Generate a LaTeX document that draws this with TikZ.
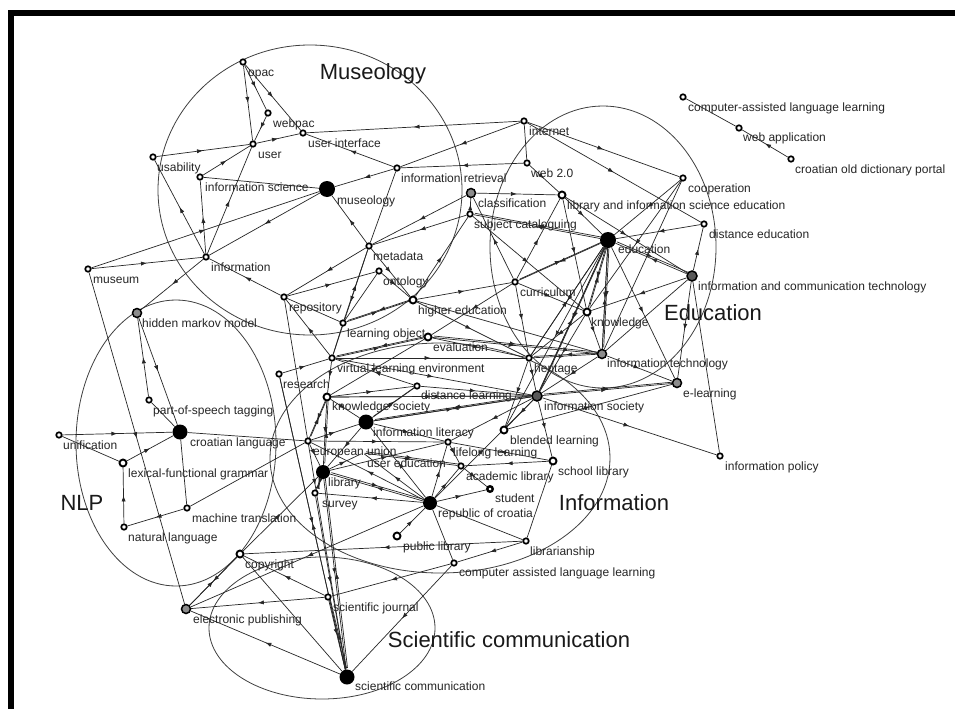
\documentclass[tikz,border=0pt]{standalone}
\usepackage{fontspec}
\setmainfont{Liberation Sans}
\usetikzlibrary{arrows.meta,decorations.markings}
\pgfdeclarelayer{bg}
\pgfdeclarelayer{fg}
\pgfsetlayers{bg,main,fg}
\newcommand\vx[7]{\node[#4] (#1) at (#2,#3) {};%
 \begin{pgfonlayer}{fg}\node[lab] (#1-l) at ([xshift=#5pt,yshift=-#6pt]#1.center) {#7};\end{pgfonlayer}}
\begin{document}
\begin{tikzpicture}[x=1pt,y=-1pt,
 lab/.style={anchor=base west, inner sep=0pt, font=\fontsize{12}{13}\selectfont, text=black!85},
 clab/.style={anchor=base, inner sep=0pt, font=\fontsize{22}{24}\selectfont, text=black!90},
 vsw/.style={circle, draw=black, line width=1.7pt, fill=white, inner sep=0pt, minimum size=5.5pt},
 vsw2/.style={vsw, minimum size=7pt, line width=1.9pt},
 vmed/.style={circle, draw=black, line width=1.5pt, fill=black!45, inner sep=0pt, minimum size=9pt},
 vdark/.style={vmed, fill=black!65, minimum size=10pt},
 vbig/.style={circle, fill=black, inner sep=0pt, minimum size=#1},
 vinv/.style={circle, inner sep=0pt, minimum size=3pt},
 arr/.style={draw=black!85, line width=0.7pt, postaction={decorate},
   decoration={markings, mark=at position 0.5 with {\arrow{Latex[length=6pt,width=4.2pt]}}}},
 pln/.style={draw=black!85, line width=0.7pt},
 grp/.style={draw=black!75, line width=0.8pt},
 shf/.style={transform canvas={shift={(1.4pt,1.4pt)}}}
]
\useasboundingbox (0,0) rectangle (955,709);

% vertices
\vx{opac}{243}{62}{vsw}{5}{14}{opac}
\vx{webpac}{268}{113}{vsw}{5}{14}{webpac}
\vx{uint}{303}{133}{vsw}{5}{14}{user interface}
\vx{user}{253}{144}{vsw}{5}{14}{user}
\vx{usab}{153}{157}{vsw}{4}{14}{usability}
\vx{infsci}{200}{177}{vsw}{5}{14}{information science}
\vx{museol}{327}{189}{vbig=16pt}{10}{15}{museology}
\vx{museum}{88}{269}{vsw}{5}{14}{museum}
\vx{info}{206}{257}{vsw}{5}{14}{information}
\vx{internet}{524}{121}{vsw}{5}{14}{internet}
\vx{infret}{397}{168}{vsw}{4}{14}{information retrieval}
\vx{web2}{527}{163}{vsw}{4}{14}{web 2.0}
\vx{classif}{471}{193}{vmed}{7}{14}{classification}
\vx{subjcat}{470}{214}{vsw}{4}{14}{subject cataloguing}
\vx{lisedu}{562}{195}{vsw2}{5}{14}{library and information science education}
\vx{callA}{683}{97}{vsw}{5}{14}{computer-assisted language learning}
\vx{webapp}{739}{128}{vsw}{4}{13}{web application}
\vx{codp}{791}{159}{vsw}{4}{14}{croatian old dictionary portal}
\vx{coop}{683}{178}{vsw}{5}{14}{cooperation}
\vx{distedu}{704}{224}{vsw}{5}{14}{distance education}
\vx{edu}{608}{240}{vbig=16pt}{10}{13}{education}
\vx{ict}{692}{276}{vdark}{6}{14}{information and communication technology}
\vx{elearn}{677}{383}{vmed}{6}{14}{e-learning}
\vx{infpol}{720}{456}{vsw}{5}{14}{information policy}
\vx{metadata}{369}{246}{vsw}{4}{14}{metadata}
\vx{ontology}{379}{271}{vsw}{4}{14}{ontology}
\vx{repos}{284}{297}{vsw}{5}{14}{repository}
\vx{highedu}{413}{300}{vsw2}{5}{14}{higher education}
\vx{lobj}{343}{323}{vsw}{4}{14}{learning object}
\vx{eval}{428}{337}{vsw2}{5}{14}{evaluation}
\vx{vle}{332}{358}{vsw}{5}{14}{virtual learning environment}
\vx{research}{279}{374}{vsw}{4}{14}{research}
\vx{curric}{515}{282}{vsw}{5}{14}{curriculum}
\vx{knowl}{587}{312}{vsw2}{4}{14}{knowledge}
\vx{infotech}{602}{354}{vmed}{5}{13}{information technology}
\vx{heritage}{529}{358}{vsw}{5}{14}{heritage}
\vx{infsoc}{537}{396}{vdark}{7}{14}{information society}
\vx{blend}{504}{430}{vsw2}{6}{14}{blended learning}
\vx{schlib}{553}{461}{vsw2}{5}{14}{school library}
\vx{lifelong}{448}{442}{vsw}{5}{14}{lifelong learning}
\vx{acadlib}{461}{466}{vsw}{5}{14}{academic library}
\vx{student}{490}{489}{vsw, line width=2.4pt}{5}{13}{student}
\vx{distlearn}{417}{386}{vsw}{4}{13}{distance learning}
\vx{knsoc}{327}{397}{vsw2}{5}{13}{knowledge society}
\vx{inflit}{366}{422}{vbig=15pt}{7}{14}{information literacy}
\vx{eu}{308}{441}{vsw}{5}{14}{european union}
\vx{useredu}{363}{453}{vinv}{4}{14}{user education}
\vx{library}{323}{472}{vbig=14pt}{5}{14}{library}
\vx{survey}{315}{493}{vsw}{7}{14}{survey}
\vx{roc}{430}{503}{vbig=14pt}{8}{14}{republic of croatia}
\vx{publib}{397}{536}{vsw2}{6}{14}{public library}
\vx{librsh}{526}{541}{vsw}{4}{14}{librarianship}
\vx{callB}{454}{563}{vsw}{5}{13}{computer assisted language learning}
\vx{scijour}{328}{597}{vsw}{5}{14}{scientific journal}
\vx{scicomm}{347}{677}{vbig=15pt}{8}{13}{scientific communication}
\vx{hmm}{137}{313}{vmed}{5}{14}{hidden markov model}
\vx{pos}{149}{400}{vsw}{4}{14}{part-of-speech tagging}
\vx{crolang}{180}{432}{vbig=15pt}{10}{14}{croatian language}
\vx{unif}{59}{435}{vsw}{4}{14}{unification}
\vx{lfg}{123}{463}{vsw2}{5}{14}{lexical-functional grammar}
\vx{mt}{187}{508}{vsw}{5}{14}{machine translation}
\vx{natlang}{124}{527}{vsw}{4}{14}{natural language}
\vx{copyright}{240}{554}{vsw2}{5}{14}{copyright}
\vx{epub}{186}{609}{vmed}{7}{14}{electronic publishing}

% cluster labels and frame
\begin{pgfonlayer}{fg}
\node[clab] (lmus) at (373,79) {Museology};
\node[clab] (ledu) at (713,320) {Education};
\node[clab] (linf) at (614,510) {Information};
\node[clab] (lnlp) at (82,510) {NLP};
\node[clab] (lsci) at (509,647) {Scientific communication};
\fill[black] (8,10) rectangle (955,16);
\fill[black] (8,10) rectangle (14,709);
\end{pgfonlayer}

\begin{pgfonlayer}{bg}
\fill[white] (0,0) rectangle (955,709);
% cluster outlines
\draw[grp] (310,190) ellipse [x radius=152pt, y radius=145pt];
\draw[grp] (603,247) ellipse [x radius=113pt, y radius=141pt];
\draw[grp] (440,458) ellipse [x radius=170pt, y radius=115pt];
\draw[grp] (176,443) ellipse [x radius=100pt, y radius=143pt];
\draw[grp] (322,628) ellipse [x radius=113pt, y radius=71pt];

% directed arcs
\foreach \a/\b in {opac/user, opac/webpac, opac/uint, webpac/user, usab/user, user/uint,
 infsci/user, info/user, info/infsci, info/usab, museum/museol, museol/info, museum/info,
 info/hmm, museum/epub, infret/museol, internet/uint, internet/infret, web2/infret, infret/uint,
 internet/coop, internet/distedu, classif/lisedu, classif/metadata, subjcat/metadata,
 subjcat/classif, metadata/museol, repos/info, metadata/repos, repos/ontology, lobj/metadata,
 lobj/highedu, ontology/highedu, metadata/highedu, highedu/subjcat, highedu/curric,
 highedu/heritage, vle/repos, metadata/vle, research/vle, vle/eval, eval/heritage,
 eval/infotech, curric/eval, curric/classif, curric/lisedu, subjcat/knowl, edu/subjcat,
 web2/lisedu, lisedu/edu, lisedu/ict, lisedu/knowl, coop/edu, coop/knowl, distedu/edu,
 ict/distedu, ict/edu, ict/knowl, ict/elearn, edu/elearn, infotech/elearn, infsoc/elearn,
 infsoc/infpol, edu/knowl, edu/infotech, edu/heritage, edu/infsoc, edu/blend, edu/curric,
 knowl/heritage, knowl/infotech, knowl/infsoc, curric/heritage, curric/knowl,
 heritage/infotech, heritage/infsoc, infotech/infsoc, vle/infsoc, vle/heritage, vle/knsoc,
 distlearn/vle, distlearn/infsoc, inflit/distlearn, knsoc/eval, knsoc/infsoc,
 knsoc/inflit, knsoc/eu, knsoc/library, eu/inflit, eu/lifelong, eu/library, research/scicomm,
 repos/scicomm, scicomm/research, library/scicomm, survey/scicomm, scijour/scicomm,
 library/survey, roc/library, roc/survey, roc/useredu, roc/eu, roc/inflit, roc/lifelong,
 roc/acadlib, roc/infsoc, roc/student, acadlib/student, publib/roc, librsh/callB,
 callB/scijour, callB/scicomm, librsh/copyright, roc/epub, schlib/acadlib, schlib/lifelong,
 infsoc/schlib, infsoc/blend, blend/elearn, infsoc/lifelong, infsoc/inflit, infsoc/knsoc,
 lifelong/acadlib, useredu/acadlib, inflit/lifelong, inflit/library, library/lifelong,
 library/useredu, heritage/blend, epub/copyright, copyright/epub, scijour/epub,
 scijour/copyright, scicomm/epub, copyright/library, hmm/crolang, pos/hmm, unif/crolang,
 lfg/crolang, natlang/lfg, mt/natlang, codp/webapp, heritage/edu, infsoc/edu, infotech/edu,
 inflit/infsoc, knsoc/distlearn}
 \draw[arr] (\a) -- (\b);

% parallel duplicates
\foreach \a/\b in {edu/ict, highedu/lobj, eval/vle, eval/infotech, eu/knsoc, library/knsoc,
 scicomm/scijour, scicomm/library, inflit/distlearn, infsoc/elearn, edu/infotech, edu/infsoc,
 useredu/acadlib, edu/subjcat, curric/edu, infotech/heritage, library/roc, knowl/edu,
 survey/library, infsoc/inflit}
 \draw[arr, shf] (\a) -- (\b);

% undirected lines
\foreach \a/\b in {museol/infsci, infret/metadata, internet/web2, ontology/lobj, lobj/vle,
 highedu/infotech, ict/infotech, ict/infpol, crolang/eu, mt/eu, roc/librsh, roc/callB,
 schlib/librsh, copyright/scicomm, pos/crolang, unif/lfg, crolang/mt, callA/webapp,
 coop/infotech, lobj/repos}
 \draw[pln] (\a) -- (\b);
\end{pgfonlayer}
\end{tikzpicture}
\end{document}
